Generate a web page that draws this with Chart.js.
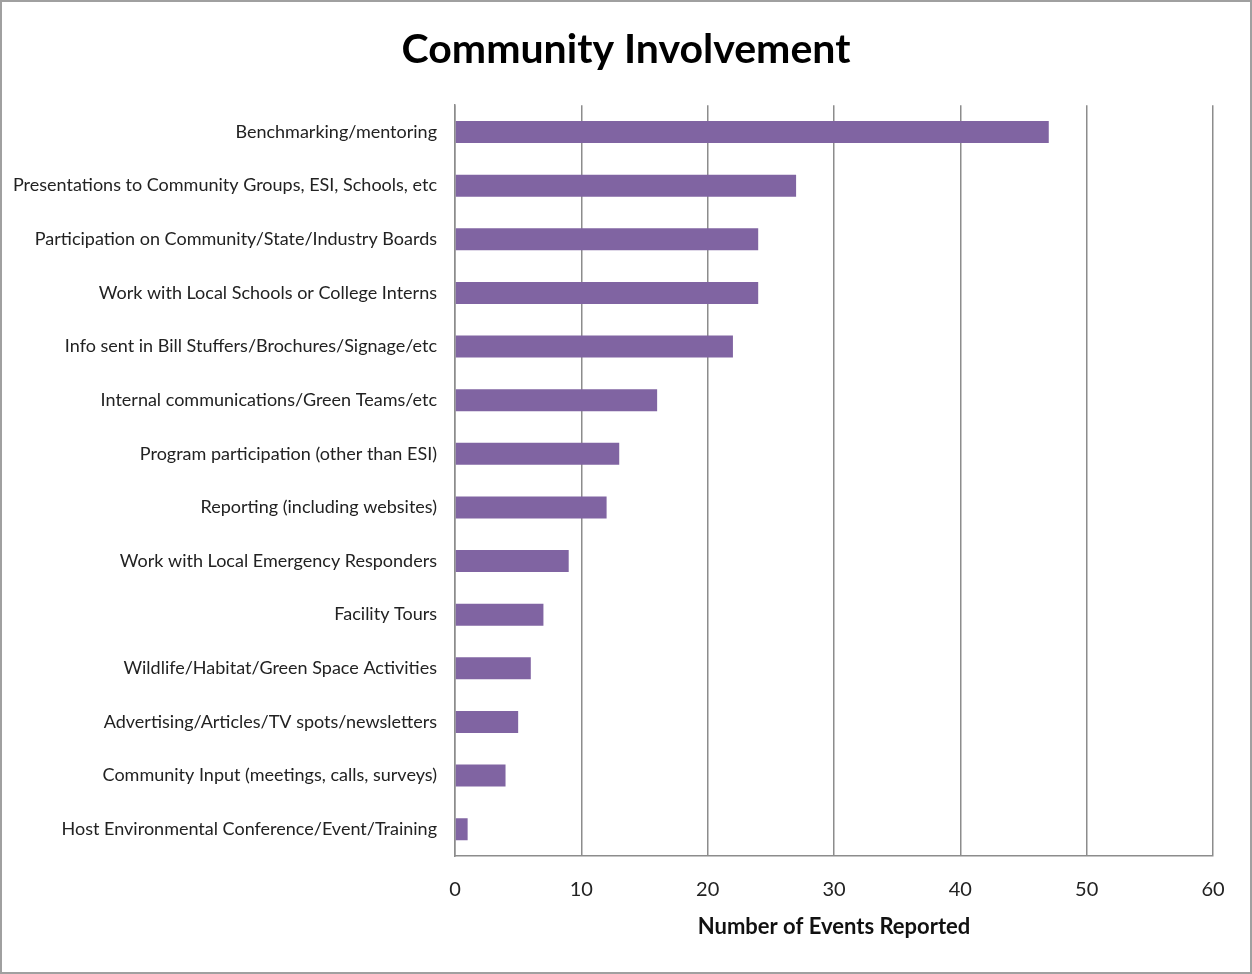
<!DOCTYPE html>
<html>
<head>
<meta charset="utf-8">
<script src="https://cdn.jsdelivr.net/npm/chart.js@4.4.1/dist/chart.umd.min.js"></script>
<style>
  html, body { margin: 0; padding: 0; background: #fff; }
  #wrap {
    position: absolute; left: 0; top: 0;
    width: 1252px; height: 974px;
    box-sizing: border-box;
    border: 2px solid #a0a0a0;
  }
  #chart { display: block; }
</style>
</head>
<body>
<div id="wrap"><canvas id="chart" width="1248" height="970"></canvas></div>
<script>
var categories = [
    'Benchmarking/mentoring',
    'Presentations to Community Groups, ESI, Schools, etc',
    'Participation on Community/State/Industry Boards',
    'Work with Local Schools or College Interns',
    'Info sent in Bill Stuffers/Brochures/Signage/etc',
    'Internal communications/Green Teams/etc',
    'Program participation (other than ESI)',
    'Reporting (including websites)',
    'Work with Local Emergency Responders',
    'Facility Tours',
    'Wildlife/Habitat/Green Space Activities',
    'Advertising/Articles/TV spots/newsletters',
    'Community Input (meetings, calls, surveys)',
    'Host Environmental Conference/Event/Training'
];
var eventCounts = [47, 27, 24, 24, 22, 16, 13, 12, 9, 7, 6, 5, 4, 1];
var xTicks = [0, 10, 20, 30, 40, 50, 60];

var fontFamily = 'Lato, "Open Sans", sans-serif';
var gridGray = '#8c8c8c';

var ctx = document.getElementById('chart').getContext('2d');
var chart = new Chart(ctx, {
    type: 'bar',
    data: {
        labels: categories,
        datasets: [{
            label: 'Number of Events Reported',
            data: eventCounts,
            backgroundColor: '#8064a2',
            borderWidth: 0,
            categoryPercentage: 0.41,
            barPercentage: 1
        }]
    },
    options: {
        indexAxis: 'y',
        responsive: false,
        animation: false,
        layout: { padding: { left: 0, right: 0, top: 0, bottom: 2 } },
        plugins: {
            legend: { display: false },
            tooltip: { enabled: false },
            title: {
                display: true,
                text: 'Community Involvement',
                color: '#000',
                font: { family: fontFamily, size: 41, weight: 'bold', lineHeight: 1.2 },
                padding: { top: 23, bottom: 31 }
            }
        },
        scales: {
            x: {
                min: 0,
                max: 60,
                afterBuildTicks: function (scale) {
                    scale.ticks = xTicks.map(function (v) { return { value: v }; });
                },
                afterFit: function (scale) { scale.height = 114; },
                grid: { color: gridGray, lineWidth: 1.5, drawTicks: false },
                border: { display: true, color: gridGray, width: 1.5 },
                ticks: {
                    color: '#222',
                    padding: 22,
                    font: { family: fontFamily, size: 20 }
                },
                title: {
                    display: true,
                    text: 'Number of Events Reported',
                    color: '#111',
                    font: { family: fontFamily, size: 22, weight: 'bold', lineHeight: 1.2 },
                    padding: { top: 4, bottom: 30 }
                }
            },
            y: {
                afterFit: function (scale) { scale.width = 453; },
                grid: { display: false, drawTicks: false },
                border: { display: true, color: gridGray, width: 1.5 },
                ticks: {
                    color: '#222',
                    padding: 18,
                    autoSkip: false,
                    font: { family: fontFamily, size: 18 }
                }
            },
            // empty spacer on the right so the plot ends where the reference does
            // while the title stays centred on the whole canvas
            spacer: {
                type: 'category',
                position: 'right',
                labels: [''],
                afterFit: function (scale) { scale.width = 37; },
                grid: { display: false, drawTicks: false },
                border: { display: false },
                ticks: { display: false }
            }
        }
    }
});
</script>
</body>
</html>
